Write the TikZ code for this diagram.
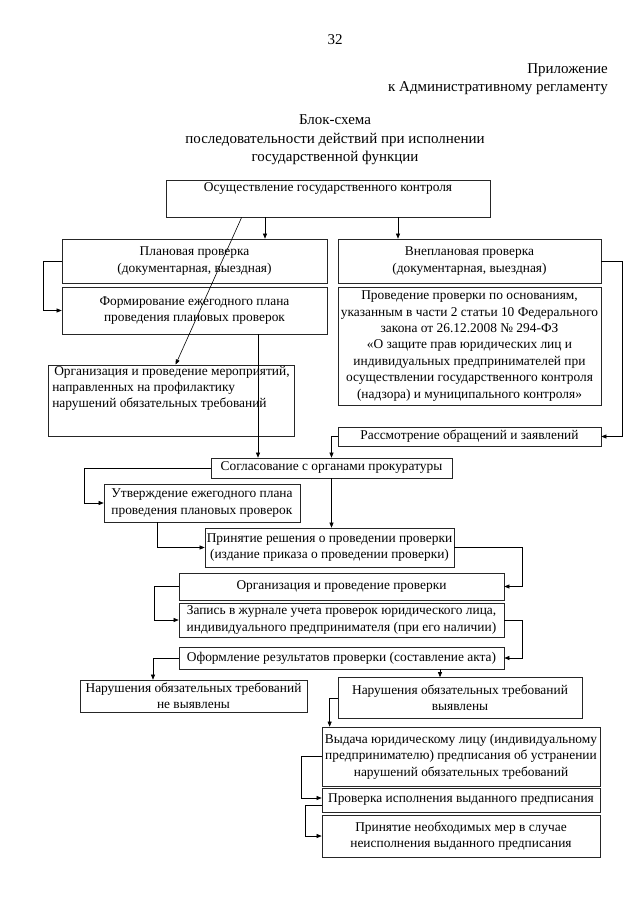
\documentclass[tikz,border=0pt]{standalone}
\usepackage{fontspec}
\setmainfont{Liberation Serif}
\usetikzlibrary{arrows.meta}
\newcommand{\fs}{\fontsize{13.4}{16.4}\selectfont}
\newcommand{\hs}{\fontsize{15}{18.5}\selectfont}
\tikzset{
  box/.style={draw=black!85, line width=0.7pt, inner sep=1pt, align=center, font=\fs},
  ln/.style={line width=0.6pt},
  arr/.style={line width=0.6pt, -{Triangle[length=5pt,width=4pt]}},
  hdr/.style={inner sep=0pt, font=\hs}
}
\begin{document}
\begin{tikzpicture}[x=1pt,y=-1pt]
\useasboundingbox (0,0) rectangle (640,905);
\fill[white] (0,0) rectangle (640,905);
% header
\node[hdr] (num) at (335,40) {32};
\node[hdr, anchor=north east, align=right] (app) at (608,63) {Приложение\\к Административному регламенту};
\node[hdr, align=center] (ttl) at (335,140) {Блок-схема\\последовательности действий при исполнении\\государственной функции};
% boxes
\node[box, minimum width=324pt, minimum height=37pt] (b1) at (328,198.5) {Осуществление государственного контроля\\[2pt]\strut};
\node[box, minimum width=265pt, minimum height=44pt] (plan) at (194.5,261) {Плановая проверка\\(документарная, выездная)};
\node[box, minimum width=263pt, minimum height=44pt] (vnepl) at (469.5,261) {Внеплановая проверка\\(документарная, выездная)};
\node[box, minimum width=265pt, minimum height=47pt] (form) at (194.5,310.5) {Формирование ежегодного плана\\проведения плановых проверок};
\node[box, minimum width=263pt, minimum height=118pt] (osn) at (469.5,346) {Проведение проверки по основаниям,\\указанным в части 2 статьи 10 Федерального\\закона от 26.12.2008 № 294-ФЗ\\«О защите прав юридических лиц и\\индивидуальных предпринимателей при\\осуществлении государственного контроля\\(надзора) и муниципального контроля»};
\node[box, minimum width=246pt, minimum height=71pt, align=left] (prof) at (171,400.5) {\hspace*{2pt}Организация и проведение мероприятий,\\направленных на профилактику\\нарушений обязательных требований\\[6pt]\strut};
\node[box, minimum width=263pt, minimum height=19pt] (rass) at (469.5,436.5) {Рассмотрение обращений и заявлений};
\node[box, minimum width=241pt, minimum height=20pt] (sogl) at (331.5,468) {Согласование с органами прокуратуры};
\node[box, minimum width=196pt, minimum height=38pt, align=left] (utv) at (202,503) {Утверждение ежегодного плана\\проведения плановых проверок};
\node[box, minimum width=249pt, minimum height=39pt] (prin) at (329.5,547.5) {Принятие решения о проведении проверки\\(издание приказа о проведении проверки)};
\node[box, minimum width=325pt, minimum height=27pt] (org) at (341.5,586.5) {Организация и проведение проверки};
\node[box, minimum width=325pt, minimum height=34pt] (zap) at (341.5,620) {Запись в журнале учета проверок юридического лица,\\индивидуального предпринимателя (при его наличии)};
\node[box, minimum width=325pt, minimum height=22pt] (ofor) at (341.5,658) {Оформление результатов проверки (составление акта)};
\node[box, minimum width=227pt, minimum height=32pt] (nevyav) at (193.5,696) {Нарушения обязательных требований\\не выявлены};
\node[box, minimum width=244pt, minimum height=41pt] (vyav) at (460,698) {Нарушения обязательных требований\\выявлены};
\node[box, minimum width=278pt, minimum height=59pt] (vyd) at (461,756.5) {Выдача юридическому лицу (индивидуальному\\предпринимателю) предписания об устранении\\нарушений обязательных требований};
\node[box, minimum width=278pt, minimum height=24pt] (prov) at (461,800) {Проверка исполнения выданного предписания};
\node[box, minimum width=278pt, minimum height=42pt] (mer) at (461,836) {Принятие необходимых мер в случае\\неисполнения выданного предписания};
% connectors
\draw[arr] ([xshift=-63pt]b1.south) -- ([xshift=-63pt]b1.south |- plan.north);
\draw[arr] ([xshift=70pt]b1.south) -- ([xshift=70pt]b1.south |- vnepl.north);
\draw[arr] ([xshift=76pt]b1.south west) -- ([xshift=128pt]prof.north west);
\draw[arr] (plan.west) -- ++(-18pt,0pt) |- (form.west);
\draw[arr] ([xshift=63.5pt]form.south) -- ([xshift=63.5pt]form.south |- sogl.north);
\draw[arr] (vnepl.east) -- ++(21pt,0pt) |- (rass.east);
\draw[arr] (rass.west) -| (sogl.north);
\draw[arr] (sogl.west) -- ++(-126pt,0pt) |- (utv.west);
\draw[arr] (sogl.south) -- (sogl.south |- prin.north);
\draw[arr] ([xshift=-45pt]utv.south) |- (prin.west);
\draw[arr] (prin.east) -- ++(68pt,0pt) |- (org.east);
\draw[arr] (org.west) -- ++(-24pt,0pt) |- (zap.west);
\draw[arr] (zap.east) -- ++(18pt,0pt) |- (ofor.east);
\draw[arr] (ofor.west) -| ([xshift=-40.5pt]nevyav.north);
\draw[arr] ([xshift=98.5pt]ofor.south) -- ([xshift=98.5pt]ofor.south |- vyav.north);
\draw[arr] (vyav.west) -| ([xshift=8pt]vyd.north west);
\draw[arr] (vyd.west) -- ++(-20pt,0pt) |- ([yshift=2pt]prov.west);
\draw[arr] ([yshift=-5pt]prov.west) -- ++(-16pt,0pt) |- (mer.west);
\end{tikzpicture}
\end{document}
